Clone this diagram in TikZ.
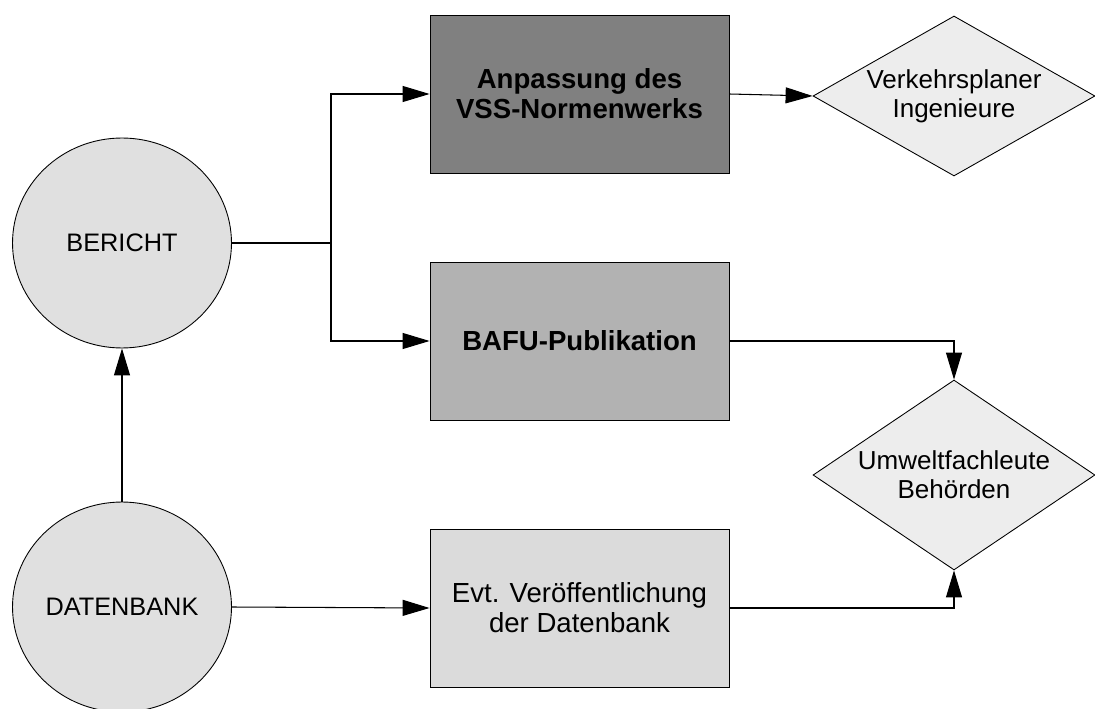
\documentclass[tikz,border=0pt]{standalone}
\usepackage{fontspec}
\setmainfont{Liberation Sans}
\usetikzlibrary{shapes.geometric,arrows.meta}

\begin{document}
\begin{tikzpicture}
  [x=0.02cm,y=-0.02cm,>={Triangle[length=0.54cm,width=0.32cm]},
   every node/.style={draw,line width=0.5pt,align=center,inner sep=0pt}]

  \tikzstyle{source}  = [ellipse,fill=black!12,minimum width=4.38cm,minimum height=4.2cm,
                         font=\fontsize{14.4}{17}\selectfont]
  \tikzstyle{product} = [rectangle,minimum width=5.98cm,minimum height=3.16cm,
                         font=\fontsize{15.7}{17}\selectfont]
  \tikzstyle{target}  = [diamond,fill=black!7,aspect=1.76,
                         font=\fontsize{14.8}{16.5}\selectfont]
  \tikzstyle{conn}    = [line width=0.6pt]

  \useasboundingbox (0,0) rectangle (1095,709);

  \node[source] (bericht)   at (122,243) {BERICHT};
  \node[source] (datenbank) at (122,607) {DATENBANK};

  \node[product,fill=black!50,font=\fontsize{15.7}{17}\selectfont\bfseries]
                 (anpassung) at (579.5,94)  {Anpassung des\\VSS-Normenwerks};
  \node[product,fill=black!30,font=\fontsize{15.7}{17}\selectfont\bfseries]
                 (bafu)      at (579.5,341) {BAFU-Publikation};
  \node[product,fill=black!14]
                 (evt)       at (579.5,608) {Evt. Ver\"offentlichung\\der Datenbank};

  \node[target,minimum width=5.64cm,minimum height=3.2cm]
                 (verkehr) at (954,96)  {Verkehrsplaner\\Ingenieure};
  \node[target,minimum width=5.64cm,minimum height=3.8cm]
                 (umwelt)  at (954,475) {Umweltfachleute\\Beh\"orden};

  \coordinate (split) at (331,243);

  \draw[conn]    (bericht.east) -- (split);
  \draw[conn,->] (split) |- (anpassung.west);
  \draw[conn,->] (split) |- (bafu.west);
  \draw[conn,->] (anpassung.east) -- (verkehr.west);
  \draw[conn,->] (bafu.east) -| (umwelt.north);
  \draw[conn,->] (evt.east) -| (umwelt.south);
  \draw[conn,->] (datenbank.east) -- (evt.west);
  \draw[conn,->] (datenbank.north) -- (bericht.south);
\end{tikzpicture}
\end{document}
